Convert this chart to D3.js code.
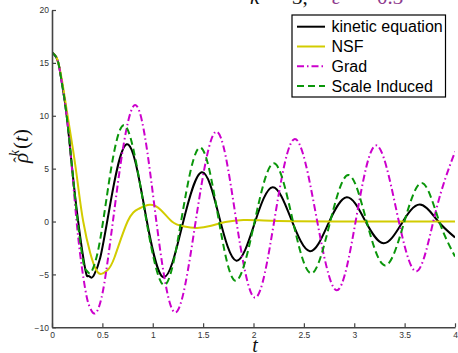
<!DOCTYPE html>
<html><head><meta charset="utf-8">
<script src="https://cdn.jsdelivr.net/npm/d3@7"></script>
<style>body{margin:0;background:#fff}svg{display:block}</style>
</head><body><svg id="c" width="458" height="353"></svg>
<script>
const seriesNames = ["kinetic equation", "NSF", "Grad", "Scale Induced"];
const kinetic = [[0,16],[0.03,15.7],[0.063,15],[0.1,13],[0.146,10],[0.2,5],[0.26,0],[0.33,-4.5],[0.36,-5.15],[0.39,-5.3],
  [0.42,-5.0],[0.478,-3.45],[0.566,1.0],[0.741,7.3],[0.923,1.0],[1.105,-5.26],[1.295,-0.3],[1.486,4.66],[1.658,0.5],[1.83,-3.7],
  [2.01,-0.2],[2.19,3.24],[2.375,0.2],[2.56,-2.8],[2.74,-0.25],[2.925,2.3],[3.107,0.1],[3.29,-2.05],
  [3.47,-0.2],[3.65,1.6],[3.83,0.05],[4.0,-1.5]];
const nsf = [[0,16],[0.05,15.4],[0.1,13.3],[0.15,10.3],[0.21,6.7],[0.26,3.3],[0.31,0],[0.38,-3],[0.44,-4.6],
  [0.49,-4.95],[0.55,-4.6],[0.62,-3.4],[0.75,0],[0.86,1.2],[0.97,1.58],[1.08,1.1],[1.19,0],[1.3,-0.45],[1.44,-0.6],
  [1.58,-0.4],[1.72,-0.05],[1.9,0.15],[2.1,0.1],[2.4,0.02],[2.8,0],[3.4,0],[4.0,0]];
const grad = [[0,16],[0.03,15.7],[0.063,15],[0.1,13],[0.146,10],[0.2,4.8],[0.26,-1.5],[0.33,-6.4],[0.375,-8.1],[0.42,-8.7],
  [0.465,-8.1],[0.52,-5.8],[0.62,1.15],[0.82,11.0],[1.02,1.2],[1.22,-8.6],[1.425,-0.05],[1.63,8.5],[1.82,0.65],[2.015,-7.2],
  [2.21,0.3],[2.41,7.8],[2.62,0.65],[2.826,-6.5],[3.02,0.35],[3.215,7.2],[3.42,1.0],[3.62,-4.7],
  [3.81,1.0],[4.0,6.6]];
const scaleInduced = [[0,16],[0.03,15.7],[0.063,15],[0.1,13],[0.146,10],[0.2,5],[0.255,0],[0.31,-3.8],[0.34,-4.6],[0.37,-4.9],
  [0.4,-4.6],[0.455,-2.85],[0.54,2.1],[0.71,9.1],[0.91,1.55],[1.11,-6.0],[1.29,0.5],[1.47,7.0],[1.645,0.7],[1.82,-5.6],
  [2.01,-0.05],[2.2,5.5],[2.385,0.3],[2.57,-4.9],[2.755,-0.25],[2.94,4.4],[3.12,0.1],[3.305,-4.15],
  [3.49,-0.25],[3.67,3.65],[3.84,0.1],[4.0,-3.3]];
const xTicks = [0,0.5,1,1.5,2,2.5,3,3.5,4];
const xTickLabels = ["0","0.5","1","1.5","2","2.5","3","3.5","4"];
const yTicks = [-10,-5,0,5,10,15,20];
const yTickLabels = ["\u221210","\u22125","0","5","10","15","20"];

const svg = d3.select("#c");
const L = 52, R = 455, T = 10, B = 327.3;
const x = d3.scaleLinear().domain([0,4]).range([L,R]);
const y = d3.scaleLinear().domain([-10,20]).range([B,T]);

svg.append("defs").append("clipPath").attr("id","clip")
  .append("rect").attr("x",L).attr("y",T).attr("width",R-L).attr("height",B-T);

const styles = [
  {color:"#000000", dash:null, w:2},
  {color:"#d2cc00", dash:null, w:2},
  {color:"#cc00cc", dash:"7,3,1.5,3", w:2},
  {color:"#0a960a", dash:"7,4", w:2}
];
const allSeries = [kinetic, nsf, grad, scaleInduced];

const line = d3.line().x(d=>x(d[0])).y(d=>y(d[1])).curve(d3.curveNatural);
const g = svg.append("g").attr("clip-path","url(#clip)");
allSeries.forEach((s,i)=>{
  g.append("path").attr("d", line(s)).attr("fill","none")
    .attr("stroke", styles[i].color).attr("stroke-width", styles[i].w)
    .attr("stroke-dasharray", styles[i].dash);
});

// axes
const xAxis = d3.axisBottom(x).tickValues(xTicks).tickFormat((d,i)=>xTickLabels[i])
  .tickSizeInner(-4).tickSizeOuter(0).tickPadding(5);
const yAxis = d3.axisLeft(y).tickValues(yTicks).tickFormat((d,i)=>yTickLabels[i])
  .tickSizeInner(-4).tickSizeOuter(0).tickPadding(3);
const gx = svg.append("g").attr("transform",`translate(0,${B})`).call(xAxis);
const gy = svg.append("g").attr("transform",`translate(${L},0)`).call(yAxis);
[gx,gy].forEach(a=>{
  a.select(".domain").attr("stroke","#444").attr("stroke-width",1.6);
  a.selectAll(".tick line").attr("stroke","#444").attr("stroke-width",1.2);
  a.selectAll(".tick text").attr("fill","#333").attr("font-family","Liberation Sans, Arial, sans-serif").attr("font-size",8.5);
});

// x label
svg.append("text").attr("x",255).attr("y",352).attr("text-anchor","middle")
  .attr("font-family","Liberation Serif, DejaVu Serif, serif").attr("font-style","italic")
  .attr("font-size",20).attr("fill","#111").text("t");

// y label
const yl = svg.append("text").attr("transform","translate(28,146) rotate(-90)")
  .attr("text-anchor","middle").attr("font-family","Liberation Serif, DejaVu Serif, serif")
  .attr("font-size",21).attr("fill","#111");
yl.append("tspan").attr("font-style","italic").text("\u03C1");
yl.append("tspan").attr("dx",-10).attr("dy",-3).attr("font-size",17).text("\u02C6");
yl.append("tspan").attr("dx",1).attr("dy",-6).attr("font-size",14).attr("font-style","italic").text("k");
yl.append("tspan").attr("dx",1).attr("dy",9).text("(");
yl.append("tspan").attr("font-style","italic").text("t");
yl.append("tspan").text(")");

// title (cut off at top)
const titleParts = [
  {t:"k", x:250, c:"#111", it:true},
  {t:"=", x:266, c:"#111", it:false},
  {t:"3,", x:292, c:"#111", it:false},
  {t:"\u03B5", x:332, c:"#8e3a8e", it:true},
  {t:"=", x:350, c:"#8e3a8e", it:false},
  {t:"0.3", x:377, c:"#8e3a8e", it:false}
];
titleParts.forEach(p=>{
  svg.append("text").attr("x",p.x).attr("y",4).attr("font-family","Liberation Serif, DejaVu Serif, serif")
    .attr("font-size",21).attr("font-style",p.it?"italic":"normal").attr("fill",p.c).text(p.t);
});

// legend
const lg = svg.append("g");
lg.append("rect").attr("x",292).attr("y",15).attr("width",153.5).attr("height",82)
  .attr("fill","#fff").attr("stroke","#000").attr("stroke-width",1.2);
seriesNames.forEach((n,i)=>{
  const yy = 26.7 + i*19.8;
  lg.append("line").attr("x1",297).attr("x2",325).attr("y1",yy).attr("y2",yy)
    .attr("stroke",styles[i].color).attr("stroke-width",styles[i].w).attr("stroke-dasharray",styles[i].dash);
  lg.append("text").attr("x",331.5).attr("y",yy+5.5).attr("font-family","Liberation Sans, Arial, sans-serif")
    .attr("font-size",16).attr("fill","#000").text(n);
});
</script></body></html>
